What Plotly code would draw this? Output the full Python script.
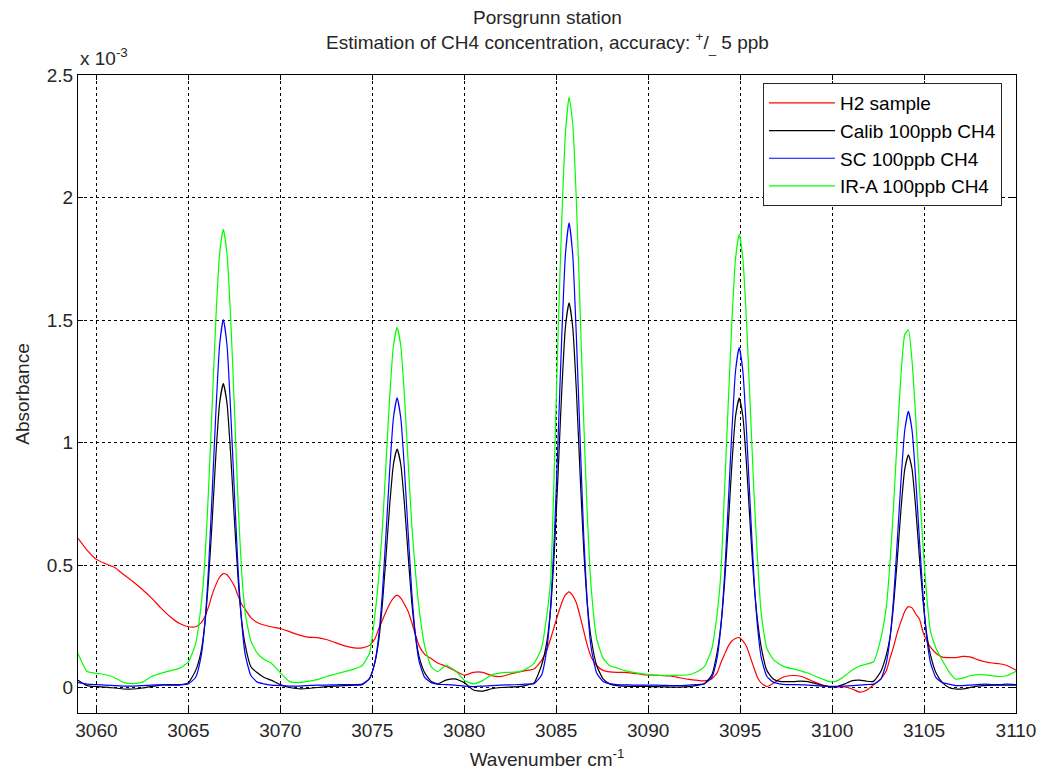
import plotly.graph_objects as go

# Wavenumber grid (cm^-1)
wavenumber = [
    3059, 3059.5, 3060, 3060.5, 3061, 3061.5, 3062, 3062.5, 3063, 3063.5, 3064, 3064.5,
    3065.0, 3065.4, 3065.7, 3065.9, 3066.1, 3066.3, 3066.5, 3066.7, 3066.9, 3067.1, 3067.3, 3067.5, 3067.7, 3067.9, 3068.1, 3068.4, 3068.75, 3069.1,
    3069.5, 3070, 3070.5, 3071, 3071.5, 3072, 3072.5, 3073, 3073.5, 3074,
    3074.45, 3074.85, 3075.15, 3075.35, 3075.55, 3075.75, 3075.95, 3076.15, 3076.35, 3076.55, 3076.75, 3076.95, 3077.15, 3077.35, 3077.55, 3077.85, 3078.2, 3078.55,
    3079, 3079.5, 3080, 3080.5, 3081, 3081.5, 3082, 3082.5, 3083, 3083.4,
    3083.8, 3084.2, 3084.5, 3084.7, 3084.9, 3085.1, 3085.3, 3085.5, 3085.7, 3085.9, 3086.1, 3086.3, 3086.5, 3086.7, 3086.9, 3087.2, 3087.55, 3087.9,
    3088.3, 3088.7, 3089.2, 3089.7, 3090.2, 3090.7, 3091.2, 3091.7, 3092.2, 3092.6,
    3093.05, 3093.45, 3093.75, 3093.95, 3094.15, 3094.35, 3094.55, 3094.75, 3094.95, 3095.15, 3095.35, 3095.55, 3095.75, 3095.95, 3096.15, 3096.45, 3096.8, 3097.15,
    3097.5, 3097.9, 3098.3, 3098.7, 3099.1, 3099.5, 3099.9, 3100.3, 3100.7, 3101.1, 3101.5, 3101.85,
    3102.25, 3102.65, 3102.95, 3103.15, 3103.35, 3103.55, 3103.75, 3103.95, 3104.15, 3104.35, 3104.55, 3104.75, 3104.95, 3105.15, 3105.35, 3105.65, 3106.0, 3106.35,
    3106.7, 3107.1, 3107.5, 3107.9, 3108.3, 3108.7, 3109.1, 3109.5, 3110,
]

# Absorbance values in units of 1e-3
h2_sample = [
    0.609, 0.56, 0.523, 0.505, 0.49, 0.46, 0.432, 0.40, 0.365, 0.325, 0.29, 0.262,
    0.248, 0.248, 0.265, 0.29, 0.33, 0.38, 0.42, 0.45, 0.465, 0.46, 0.44, 0.415, 0.375, 0.34, 0.318, 0.285, 0.265, 0.255,
    0.248, 0.241, 0.228, 0.215, 0.206, 0.204, 0.196, 0.183, 0.17, 0.162,
    0.162, 0.172, 0.2, 0.24, 0.275, 0.31, 0.342, 0.365, 0.377, 0.365, 0.34, 0.31, 0.265, 0.215, 0.17, 0.135, 0.118, 0.1,
    0.087, 0.068, 0.05, 0.062, 0.062, 0.048, 0.045, 0.055, 0.064, 0.07,
    0.076, 0.11, 0.155, 0.2, 0.25, 0.3, 0.345, 0.378, 0.39, 0.375, 0.345, 0.29, 0.23, 0.17, 0.125, 0.09, 0.07, 0.064,
    0.062, 0.062, 0.058, 0.053, 0.051, 0.049, 0.047, 0.04, 0.033, 0.03,
    0.027, 0.035, 0.06, 0.1, 0.135, 0.168, 0.19, 0.2, 0.204, 0.19, 0.167, 0.125, 0.08, 0.04, 0.018, 0.004, 0.016, 0.035,
    0.046, 0.049, 0.046, 0.034, 0.021, 0.01, 0.003, 0.003, 0.002, -0.006, -0.019, -0.012,
    0.01, 0.035, 0.068, 0.12, 0.168, 0.225, 0.27, 0.31, 0.33, 0.325, 0.3, 0.28, 0.225, 0.19, 0.165, 0.14, 0.124, 0.122,
    0.122, 0.127, 0.125, 0.114, 0.105, 0.1, 0.097, 0.09, 0.071,
]

calib_100ppb = [
    0.03, 0.008, 0.004, 0.002, -0.002, -0.006, -0.006, -0.002, 0.004, 0.01, 0.01, 0.01,
    0.02, 0.07, 0.15, 0.262, 0.444, 0.687, 0.953, 1.161, 1.24, 1.161, 0.953, 0.69, 0.45, 0.272, 0.17, 0.085, 0.06, 0.042,
    0.03, 0.012, 0.0, -0.005, -0.004, 0.0, 0.004, 0.006, 0.008, 0.01,
    0.012, 0.038, 0.105, 0.191, 0.341, 0.539, 0.748, 0.911, 0.973, 0.911, 0.748, 0.54, 0.345, 0.211, 0.125, 0.06, 0.025, 0.015,
    0.03, 0.035, 0.02, -0.01, -0.015, -0.005, 0.0, 0.002, 0.004, 0.01,
    0.02, 0.09, 0.19, 0.325, 0.558, 0.869, 1.207, 1.47, 1.57, 1.47, 1.207, 0.87, 0.56, 0.335, 0.2, 0.09, 0.035, 0.015,
    0.008, 0.006, 0.005, 0.005, 0.004, 0.003, 0.002, 0.002, 0.004, 0.008,
    0.015, 0.05, 0.144, 0.251, 0.423, 0.654, 0.908, 1.106, 1.181, 1.106, 0.908, 0.66, 0.43, 0.271, 0.164, 0.07, 0.035, 0.025,
    0.024, 0.024, 0.026, 0.024, 0.016, 0.008, 0.003, 0.004, 0.015, 0.028, 0.03, 0.026,
    0.025, 0.065, 0.133, 0.206, 0.343, 0.527, 0.731, 0.89, 0.95, 0.89, 0.731, 0.53, 0.35, 0.216, 0.133, 0.06, 0.02, 0.0,
    -0.006, -0.006, 0.0, 0.006, 0.008, 0.01, 0.01, 0.01, 0.01,
]

sc_100ppb = [
    0.02, 0.014, 0.012, 0.010, 0.008, 0.006, 0.006, 0.008, 0.010, 0.011, 0.012, 0.012,
    0.015, 0.042, 0.131, 0.265, 0.489, 0.802, 1.13, 1.398, 1.502, 1.398, 1.13, 0.802, 0.489, 0.265, 0.131, 0.049, 0.022, 0.015,
    0.010, 0.008, 0.006, 0.006, 0.008, 0.010, 0.010, 0.011, 0.012, 0.012,
    0.014, 0.035, 0.106, 0.211, 0.386, 0.632, 0.89, 1.1, 1.182, 1.1, 0.89, 0.632, 0.386, 0.211, 0.106, 0.041, 0.02, 0.014,
    0.012, 0.010, 0.006, 0.004, 0.006, 0.008, 0.010, 0.011, 0.012, 0.014,
    0.016, 0.05, 0.163, 0.332, 0.615, 1.011, 1.426, 1.765, 1.897, 1.765, 1.426, 1.011, 0.615, 0.332, 0.163, 0.059, 0.025, 0.016,
    0.012, 0.011, 0.010, 0.010, 0.010, 0.009, 0.008, 0.008, 0.010, 0.012,
    0.015, 0.04, 0.122, 0.246, 0.452, 0.741, 1.043, 1.291, 1.387, 1.291, 1.043, 0.741, 0.452, 0.246, 0.122, 0.046, 0.022, 0.015,
    0.012, 0.012, 0.011, 0.010, 0.008, 0.006, 0.005, 0.005, 0.006, 0.008, 0.010, 0.012,
    0.014, 0.034, 0.101, 0.202, 0.369, 0.603, 0.848, 1.049, 1.127, 1.049, 0.848, 0.603, 0.369, 0.202, 0.101, 0.04, 0.02, 0.014,
    0.008, 0.008, 0.010, 0.012, 0.014, 0.012, 0.012, 0.014, 0.012,
]

ira_100ppb = [
    0.139, 0.065, 0.058, 0.052, 0.04, 0.02, 0.016, 0.022, 0.045, 0.058, 0.068, 0.078,
    0.105, 0.18, 0.34, 0.52, 0.81, 1.16, 1.51, 1.77, 1.87, 1.77, 1.51, 1.15, 0.76, 0.47, 0.30, 0.19, 0.14, 0.115,
    0.10, 0.06, 0.025, 0.02, 0.025, 0.032, 0.045, 0.055, 0.065, 0.075,
    0.09, 0.14, 0.30, 0.45, 0.65, 0.92, 1.19, 1.395, 1.47, 1.395, 1.19, 0.92, 0.66, 0.47, 0.32, 0.17, 0.085, 0.065,
    0.09, 0.07, 0.03, 0.015, 0.028, 0.052, 0.06, 0.062, 0.065, 0.078,
    0.10, 0.16, 0.30, 0.44, 0.90, 1.44, 1.90, 2.26, 2.41, 2.30, 1.98, 1.54, 1.08, 0.69, 0.41, 0.20, 0.12, 0.09,
    0.08, 0.07, 0.062, 0.056, 0.052, 0.05, 0.05, 0.05, 0.052, 0.062,
    0.085, 0.155, 0.30, 0.46, 0.80, 1.15, 1.49, 1.75, 1.85, 1.75, 1.49, 1.15, 0.80, 0.52, 0.30, 0.16, 0.115, 0.095,
    0.082, 0.076, 0.068, 0.058, 0.046, 0.034, 0.023, 0.028, 0.048, 0.072, 0.088, 0.095,
    0.105, 0.20, 0.33, 0.51, 0.75, 1.03, 1.28, 1.44, 1.46, 1.33, 1.10, 0.82, 0.57, 0.37, 0.23, 0.16, 0.11, 0.065,
    0.035, 0.038, 0.048, 0.053, 0.052, 0.048, 0.045, 0.048, 0.066,
]

series_names = ["H2 sample", "Calib 100ppb CH4", "SC 100ppb CH4", "IR-A 100ppb CH4"]
series_colors = ["#ff0000", "#000000", "#0000ff", "#00ff00"]
series_values = [h2_sample, calib_100ppb, sc_100ppb, ira_100ppb]

x_ticks = [3060, 3065, 3070, 3075, 3080, 3085, 3090, 3095, 3100, 3105, 3110]
y_ticks = [0, 0.5, 1, 1.5, 2, 2.5]
y_tick_labels = ["0", "0.5", "1", "1.5", "2", "2.5"]

FONT = "Liberation Sans, Arial, sans-serif"
FS = 19
TXT = "#262626"

fig = go.Figure()
for i, (name, color, vals) in enumerate(zip(series_names, series_colors, series_values)):
    fig.add_trace(go.Scatter(
        x=wavenumber, y=vals, mode="lines", name=name,
        line=dict(color=color, width=1.2, shape="spline", smoothing=0.5),
        legendgroup=f"g{i}",
    ))

axis_common = dict(
    showline=True, linecolor="black", linewidth=1, mirror="ticks",
    ticks="inside", ticklen=5, tickcolor="black",
    showgrid=True, gridcolor="black", gridwidth=1, griddash="3px,3px",
    zeroline=False, tickfont=dict(family=FONT, size=FS, color=TXT),
    automargin=False,
)

fig.update_layout(
    width=1041, height=771,
    paper_bgcolor="white", plot_bgcolor="white",
    margin=dict(l=78, r=25, t=75, b=58),
    font=dict(family=FONT, size=FS, color=TXT),
    xaxis=dict(
        range=[3059, 3110], tickvals=x_ticks,
        title=dict(text="Wavenumber cm<sup>-1</sup>", standoff=12,
                   font=dict(family=FONT, size=FS, color=TXT)),
        **axis_common,
    ),
    yaxis=dict(
        range=[-0.104, 2.5], tickvals=y_ticks, ticktext=y_tick_labels,
        title=dict(text="Absorbance", standoff=12,
                   font=dict(family=FONT, size=FS, color=TXT)),
        **axis_common,
    ),
    legend=dict(
        x=0.7303, y=0.9875, xanchor="left", yanchor="top",
        bgcolor="white", bordercolor="#262626", borderwidth=1,
        font=dict(family=FONT, size=FS, color="black"),
        tracegroupgap=0, itemwidth=66,
    ),
    showlegend=True,
)

# Two-line title above the axes
fig.add_annotation(
    text="Porsgrunn station<br>Estimation of CH4 concentration, accuracy: <sup>+</sup>/<sub>_</sub> 5 ppb",
    xref="paper", yref="paper", x=0.5, y=1, xanchor="center", yanchor="bottom",
    yshift=17, showarrow=False, align="center",
    font=dict(family=FONT, size=FS, color=TXT),
)

# Exponent multiplier label
fig.add_annotation(
    text="x 10<sup>-3</sup>", xref="paper", yref="paper", x=0, y=1,
    xanchor="left", yanchor="bottom", yshift=4, showarrow=False,
    font=dict(family=FONT, size=FS, color=TXT),
)

fig.write_html("out.html", config={"displayModeBar": False},
               post_script="document.body.style.margin='0px';")
